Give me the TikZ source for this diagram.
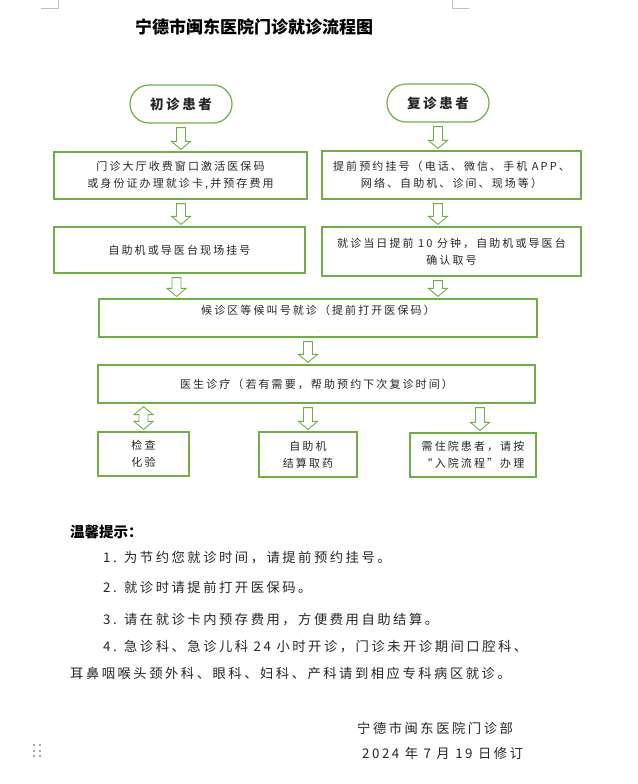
\documentclass[tikz,border=0pt]{standalone}
\usepackage{fontspec}
\setmainfont{Noto Sans CJK SC}
\newfontfamily\cjk[LetterSpace=19]{Noto Sans CJK SC}
\usetikzlibrary{calc}
\definecolor{flowgreen}{RGB}{112,173,71}

% hollow block arrow from #1 down to #2
\newcommand{\hollowarrow}[2]{%
  \draw[blockarrow] let \p1=#1, \p2=#2 in
    ({\x1-4.5pt},{\y1-4pt}) -- ({\x1+4.5pt},{\y1-4pt})
    -- ({\x1+4.5pt},{\y2+10pt}) -- ({\x1+9.5pt},{\y2+10pt})
    -- (\x1,{\y2+2pt}) -- ({\x1-9.5pt},{\y2+10pt})
    -- ({\x1-4.5pt},{\y2+10pt}) -- cycle;}
% same, with a head at both ends
\newcommand{\hollowdarrow}[2]{%
  \draw[blockarrow] let \p1=#1, \p2=#2 in
    (\x1,{\y1-3pt}) -- ({\x1+9.5pt},{\y1-11pt}) -- ({\x1+4.5pt},{\y1-11pt})
    -- ({\x1+4.5pt},{\y2+10pt}) -- ({\x1+9.5pt},{\y2+10pt})
    -- (\x1,{\y2+2pt}) -- ({\x1-9.5pt},{\y2+10pt})
    -- ({\x1-4.5pt},{\y2+10pt}) -- ({\x1-4.5pt},{\y1-11pt})
    -- ({\x1-9.5pt},{\y1-11pt}) -- cycle;}

\begin{document}
\begin{tikzpicture}[x=1pt, y=-1pt,
  box/.style={draw=flowgreen, line width=1.2pt, align=center,
    inner sep=0pt, text=black!85, font=\cjk\fontsize{11}{17}\selectfont},
  start/.style={box, rounded corners=19pt, minimum width=102pt,
    minimum height=38pt, font=\cjk\bfseries\fontsize{13.5}{16}\selectfont},
  blockarrow/.style={draw=flowgreen, line width=0.9pt, fill=white},
  tip/.style={anchor=west, inner sep=0pt, text=black!85,
    font=\cjk\fontsize{13.3}{16}\selectfont},
]
  \fill[white] (0,0) rectangle (637,784);
  \useasboundingbox (0,0) rectangle (637,784);
  % page corner marks and handle
  \draw[gray!50, line width=0.6pt] (41,8) -- (58,8) -- (58,0);
  \draw[gray!50, line width=0.6pt] (469,8) -- (452,8) -- (452,0);
  \foreach \dx in {34,40}{
    \foreach \dy in {745,751,756}{
      \fill[gray!70] (\dx-1.2,\dy-1.2) rectangle ++(2.4,2.4);
    }
  }
  % title
  \node[font=\bfseries\fontsize{17}{20}\selectfont] (title) at (254,27)
    {宁德市闽东医院门诊就诊流程图};
  % first visit
  \node[start] (first) at (181,104) {初诊患者};
  \node[box, minimum width=253pt, minimum height=47pt] (card) at (180.5,175.5)
    {门诊大厅收费窗口激活医保码\\或身份证办理就诊卡,并预存费用};
  \node[box, minimum width=251pt, minimum height=46pt] (onsite) at (179.5,250)
    {自助机或导医台现场挂号};
  % return visit
  \node[start] (repeat) at (438,103) {复诊患者};
  \node[box, minimum width=259pt, minimum height=48pt] (booking) at (451.5,175)
    {提前预约挂号（电话、微信、手机 APP、\\网络、自助机、诊间、现场等）};
  \node[box, minimum width=259pt, minimum height=49pt] (checkin) at (451.5,251.5)
    {就诊当日提前 10 分钟，自助机或导医台\\确认取号};
  % common part
  \node[box, minimum width=438pt, minimum height=38pt] (wait) at (318,318)
    {候诊区等候叫号就诊（提前打开医保码）\\{\tiny .}};
  \node[box, minimum width=437pt, minimum height=38pt] (doctor) at (316.5,384)
    {医生诊疗（若有需要，帮助预约下次复诊时间）};
  \node[box, minimum width=91pt, minimum height=44pt] (exam) at (143.5,454)
    {检查\\化验};
  \node[box, minimum width=98pt, minimum height=45pt] (drug) at (308,454.5)
    {自助机\\结算取药};
  \node[box, minimum width=126pt, minimum height=44pt] (inpat) at (473,455)
    {需住院患者，请按\\“入院流程”办理};
  % arrows
  \hollowarrow{(first.south)}{(card.north)}
  \hollowarrow{(card.south -| first.south)}{(onsite.north)}
  \hollowarrow{(repeat.south)}{(booking.north)}
  \hollowarrow{(booking.south -| repeat.south)}{(checkin.north)}
  \hollowarrow{([xshift=-3pt]onsite.south)}{(wait.north)}
  \hollowarrow{(checkin.south -| repeat.south)}{(wait.north)}
  \hollowarrow{([xshift=-10pt]wait.south)}{(doctor.north)}
  \hollowdarrow{(doctor.south -| exam.north)}{(exam.north)}
  \hollowarrow{(doctor.south -| drug.north)}{(drug.north)}
  \hollowarrow{($(doctor.south -| inpat.north)+(7,0)$)}{(inpat.north)}
  % tips
  \node[anchor=west, inner sep=0pt, font=\bfseries\fontsize{14.5}{16}\selectfont]
    (tiphead) at (70,532) {温馨提示：};
  \node[tip] (tip1) at (103,558) {1. 为节约您就诊时间，请提前预约挂号。};
  \node[tip] (tip2) at (103,587) {2. 就诊时请提前打开医保码。};
  \node[tip] (tip3) at (103,620) {3. 请在就诊卡内预存费用，方便费用自助结算。};
  \node[tip] (tip4) at (103,647) {4. 急诊科、急诊儿科 24 小时开诊，门诊未开诊期间口腔科、};
  \node[tip] (tip5) at (70,673) {耳鼻咽喉头颈外科、眼科、妇科、产科请到相应专科病区就诊。};
  % signature
  \node[tip] (dept) at (357,728) {宁德市闽东医院门诊部};
  \node[tip] (date) at (362,753) {2024 年 7 月 19 日修订};
\end{tikzpicture}
\end{document}
